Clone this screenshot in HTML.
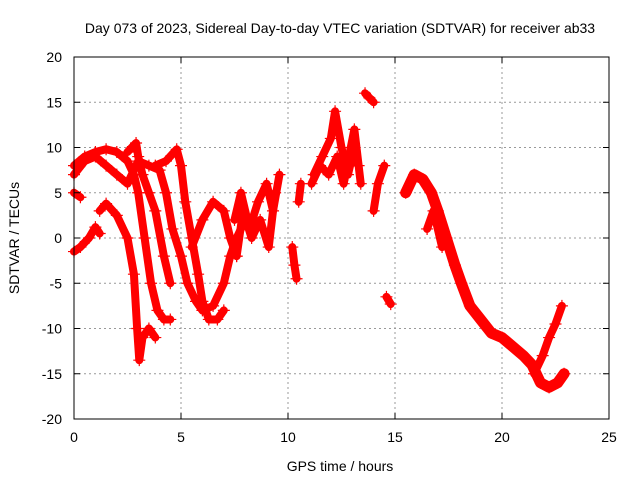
<!DOCTYPE html>
<html><head><meta charset="utf-8"><style>
body{margin:0;background:#fff;}
svg{display:block;font-family:"Liberation Sans",sans-serif;}
</style></head><body>
<svg id="chart" width="640" height="480" viewBox="0 0 640 480" xmlns="http://www.w3.org/2000/svg">
<rect width="640" height="480" fill="#fff"/>
<text x="340" y="33" text-anchor="middle" font-size="14">Day 073 of 2023, Sidereal Day-to-day VTEC variation (SDTVAR) for receiver ab33</text>
<text x="340" y="471" text-anchor="middle" font-size="14">GPS time / hours</text>
<text transform="translate(19,238) rotate(-90)" text-anchor="middle" font-size="14">SDTVAR / TECUs</text>
<g id="grid"></g><g id="marks"></g>
<rect x="74" y="57" width="535" height="362" fill="none" stroke="#000" stroke-width="1"/>
<g id="ticks"></g>
</svg>
<script>
const xTicks=[0,5,10,15,20,25];
const yTicks=[-20,-15,-10,-5,0,5,10,15,20];
const t1=[0,0.5,1,1.5,2,2.5,2.8,3,3.3,3.6,3.9,4.2,4.5];
const v1=[8,9,9.5,9.8,9.5,8.5,7,5,0,-5,-8,-9,-9];
const t2=[0,0.5,1,1.5,2,2.5,3,3.5,4,4.3,4.6,5,5.3,5.7,6,6.5,7,7.3,7.6,8];
const v2=[7,8.5,9,8,7,6,8.5,8,7.5,5,1,-2,-5,-7,-8,-7.5,-5,-2,0,2];
const t3=[0,0.3];
const v3=[5,4.5];
const t4=[0,0.3,0.7,1,1.2];
const v4=[-1.5,-1,0,1.2,0.5];
const t5=[1.2,1.5,2,2.5,2.8,2.95,3.05,3.2,3.5,3.8];
const v5=[3,3.8,2.5,0,-4,-10,-13.5,-11,-10,-11];
const t6=[2.5,2.9,3,3.2,3.5,3.8,4.2,4.5];
const v6=[9.5,10.5,9,7,5,3,-2,-5];
const t7=[3.8,4.3,4.8,5,5.2,5.5,5.8,6,6.3,6.7,7];
const v7=[8,8.5,9.8,8,4,0,-4,-7,-9,-9,-8];
const t8=[5.5,6,6.5,7,7.3,7.6];
const v8=[-1,2,4,3,0,-2];
const t9=[7.5,7.8,8.2,8.6,9,9.3,9.6];
const v9=[2,5,1,4,6,3,7];
const t19=[7.6,7.9,8.3,8.7,9.1,9.4];
const v19=[-2,3,0,2,-1,5];
const t10=[10.2,10.3,10.4];
const v10=[-1,-3,-4.5];
const t11=[10.5,10.6];
const v11=[4,6];
const t12=[11.2,11.6,12,12.2,12.5,12.8,13,13.3];
const v12=[7,9,11,14,10,7,9,8];
const t20=[11.1,11.5,11.9,12.3,12.6,13.1,13.4];
const v20=[6,8,7,9,6,12,6];
const t13=[13.6,13.8,14];
const v13=[16,15.5,15];
const t14=[14,14.2,14.5];
const v14=[3,6,8];
const t15=[14.6,14.8];
const v15=[-6.5,-7.3];
const t16=[15.5,15.9,16.3,16.7,17,17.4,17.8,18.1,18.5,19,19.5,20,20.5,21,21.4,21.8,22.2,22.6,22.9];
const v16=[5,7,6.5,5,3,0,-3,-5,-7.5,-9,-10.5,-11,-12,-13,-14,-16,-16.5,-16,-15];
const t17=[16.5,16.8,17.2];
const v17=[1,3,-1];
const t18=[21.5,21.9,22.2,22.5,22.8];
const v18=[-15,-13,-11,-9.5,-7.5];
const tracks=[[t1,v1],[t2,v2],[t3,v3],[t4,v4],[t5,v5],[t6,v6],[t7,v7],[t8,v8],[t9,v9],[t19,v19],[t10,v10],[t11,v11],[t12,v12],[t20,v20],[t13,v13],[t14,v14],[t15,v15],[t16,v16],[t17,v17],[t18,v18]];
const X=t=>74+t*21.4, Y=v=>238-v*9.05;
const NS="http://www.w3.org/2000/svg";
const grid=document.getElementById('grid'),ticks=document.getElementById('ticks'),marks=document.getElementById('marks');
function mk(tag,attrs,parent){const e=document.createElementNS(NS,tag);for(const k in attrs)e.setAttribute(k,attrs[k]);parent.appendChild(e);return e;}
xTicks.forEach(t=>{
 if(t>0&&t<25){const g=mk('line',{x1:X(t),x2:X(t),y1:57,y2:419,stroke:'#999','stroke-dasharray':'2,3'},grid);
 
 }
 mk('line',{x1:X(t),x2:X(t),y1:419,y2:413,stroke:'#000'},ticks);
 mk('line',{x1:X(t),x2:X(t),y1:57,y2:63,stroke:'#000'},ticks);
 const l=mk('text',{x:X(t),y:442,'text-anchor':'middle','font-size':'14'},ticks);l.textContent=t;
 
 
});
yTicks.forEach(v=>{
 if(v>-20&&v<20){const g=mk('line',{x1:74,x2:609,y1:Y(v),y2:Y(v),stroke:'#999','stroke-dasharray':'2,3'},grid);
 
 }
 mk('line',{x1:74,x2:80,y1:Y(v),y2:Y(v),stroke:'#000'},ticks);
 mk('line',{x1:609,x2:603,y1:Y(v),y2:Y(v),stroke:'#000'},ticks);
 const l=mk('text',{x:62,y:Y(v)+5,'text-anchor':'end','font-size':'14'},ticks);l.textContent=v;
 
 
});
tracks.forEach(([ts,vs],k)=>{
 const pts=ts.map((t,i)=>X(t)+','+Y(vs[i])).join(' ');
 const sw=(k===17)?11:8;
 const p=mk('polyline',{points:pts,fill:'none',stroke:'#f00','stroke-width':sw,'stroke-linejoin':'round','stroke-linecap':'round'},marks);
 
 
 ts.forEach((t,i)=>{
  const x=X(t),y=Y(vs[i]);
  const m=mk('path',{d:`M${x-6},${y}h12M${x},${y-6}v12`,stroke:'#f00','stroke-width':1.2},marks);
  
  
 });
});
</script>
</body></html>
